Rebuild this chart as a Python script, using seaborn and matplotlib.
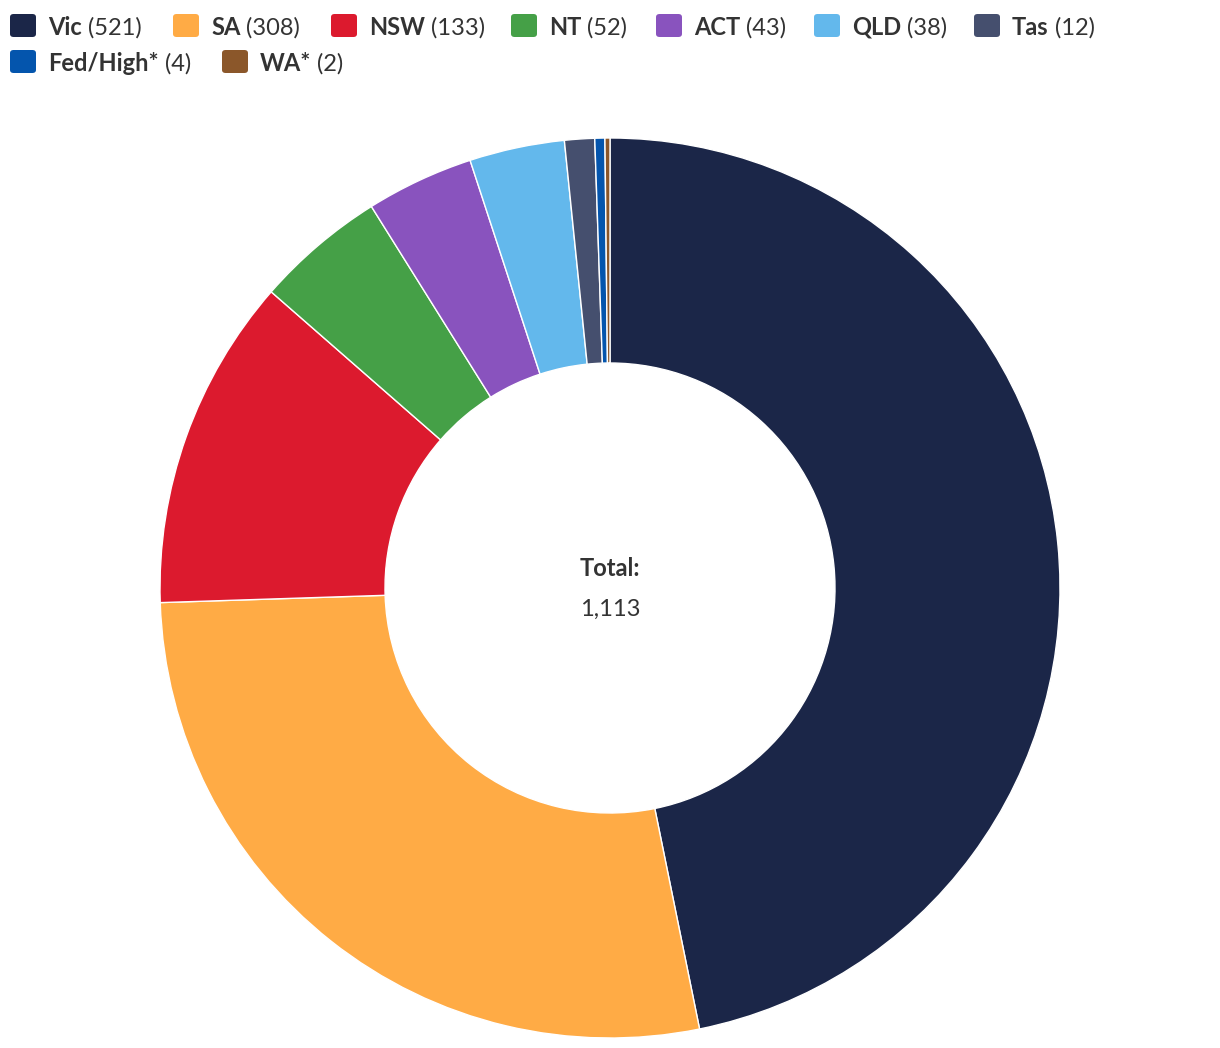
import matplotlib
matplotlib.use("Agg")
import matplotlib.pyplot as plt
import seaborn as sns
from matplotlib.patches import FancyBboxPatch

categories = ["Vic", "SA", "NSW", "NT", "ACT", "QLD", "Tas", "Fed/High*", "WA*"]
values = [521, 308, 133, 52, 43, 38, 12, 4, 2]
colors = ["#1b2648", "#ffab45", "#dc1a2e", "#45a047", "#8953be",
          "#63b8ec", "#454f6e", "#0455ad", "#8b572a"]
total_label = "Total:"
total_value = "1,113"

sns.set_theme(style="white")
plt.rcParams["font.family"] = ["Lato", "DejaVu Sans"]

W, H = 1220, 1048
fig = plt.figure(figsize=(W / 100, H / 100), dpi=100)

cx, cy, R = 610, 588, 450
ax = fig.add_axes([(cx - R) / W, (H - (cy + R)) / H, 2 * R / W, 2 * R / H])
ax.pie(values, colors=colors, startangle=90, counterclock=False, radius=1,
       wedgeprops=dict(width=0.5, edgecolor="white", linewidth=1))
ax.set_xlim(-1, 1)
ax.set_ylim(-1, 1)
ax.set_aspect("equal")
ax.axis("off")

txt_color = "#333333"
ax.text(0, (cy - 567) / R, total_label, ha="center", va="center_baseline",
        fontsize=17, fontweight="bold", color=txt_color)
ax.text(0, (cy - 607) / R, total_value, ha="center", va="center_baseline",
        fontsize=17, color=txt_color)

# Legend (manual, two rows)
sq_x = [10, 173, 331, 511, 656, 814, 974, 10, 222]
row_y = [25.5, 25.5, 25.5, 25.5, 25.5, 25.5, 25.5, 61.5, 61.5]
fig.canvas.draw()
renderer = fig.canvas.get_renderer()
for name, val, col, x, y in zip(categories, values, colors, sq_x, row_y):
    sw, sh = 26, 23
    p = FancyBboxPatch((x / W, (H - y - sh / 2) / H), sw / W, sh / H,
                       boxstyle="round,pad=0,rounding_size=0.003",
                       transform=fig.transFigure, facecolor=col,
                       edgecolor="none")
    fig.patches.append(p)
    tx = x + 38
    t1 = fig.text(tx / W, (H - y) / H, name, fontsize=17, fontweight="bold",
                  color=txt_color, va="center_baseline", ha="left")
    bb = t1.get_window_extent(renderer)
    fig.text((bb.x1 + 6) / W, (H - y) / H, f"({val})", fontsize=17,
             color=txt_color, va="center_baseline", ha="left")

fig.savefig("out.png", dpi=100, facecolor="white")
